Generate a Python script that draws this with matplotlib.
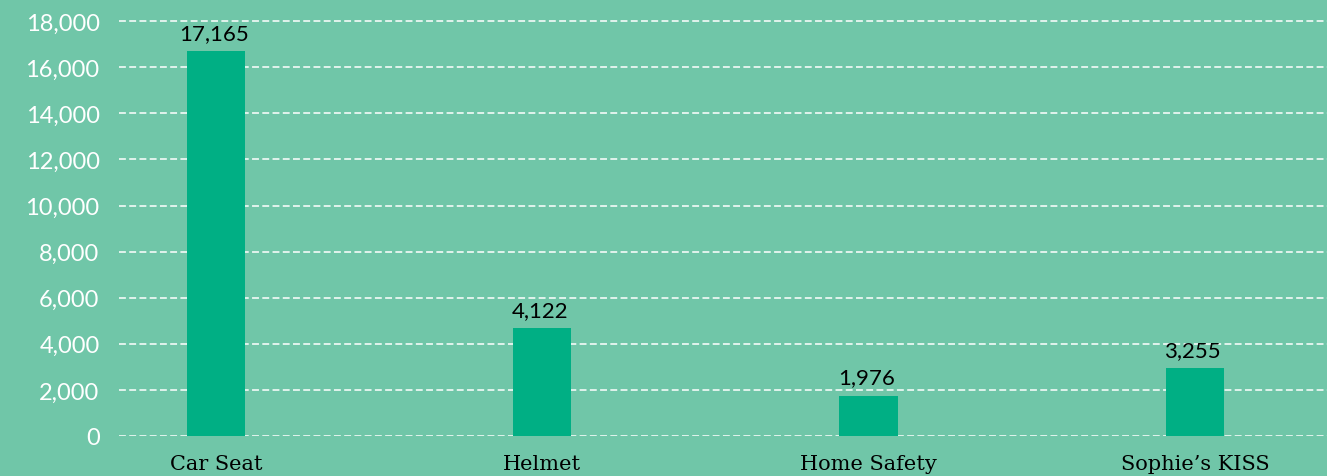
import matplotlib
matplotlib.use("Agg")
import matplotlib.pyplot as plt

categories = ["Car Seat", "Helmet", "Home Safety", "Sophie\u2019s KISS"]
bar_heights = [16700, 4680, 1740, 2940]
value_labels = ["17,165", "4,122", "1,976", "3,255"]
y_ticks = [0, 2000, 4000, 6000, 8000, 10000, 12000, 14000, 16000, 18000]

BG = "#70C6A8"
BAR = "#00AF84"

W, H = 1327, 477
fig = plt.figure(figsize=(W / 100, H / 100), dpi=100, facecolor=BG)
ax = fig.add_axes([119 / W, (H - 437) / H, 1 - 119 / W, 437 / H])
ax.set_facecolor(BG)

x = list(range(len(categories)))
ax.bar(x, bar_heights, width=0.178, color=BAR, zorder=3)

ax.set_xlim(-0.297, 3.405)
ax.set_ylim(0, 437 / 46.1 * 2000)

ax.set_yticks(y_ticks)
ax.set_yticklabels([f"{v:,}" for v in y_ticks], color="white",
                   fontsize=17, family="Lato")
ax.tick_params(axis="y", length=0, pad=14)
ax.set_xticks(x)
ax.set_xticklabels(categories, fontsize=15, family="DejaVu Serif", color="black")
ax.tick_params(axis="x", length=0, pad=13)

ax.yaxis.grid(True, color="white", linewidth=1.1, linestyle=(0, (4.5, 2.2)), zorder=1)
ax.xaxis.grid(False)
for s in ax.spines.values():
    s.set_visible(False)

for xi, h, lab in zip(x, bar_heights, value_labels):
    ax.annotate(lab, (xi, h), xytext=(-1.5, 6), textcoords="offset points",
                ha="center", va="bottom", fontsize=16, family="Lato", color="black")

fig.savefig("out.png", dpi=100, facecolor=BG)
